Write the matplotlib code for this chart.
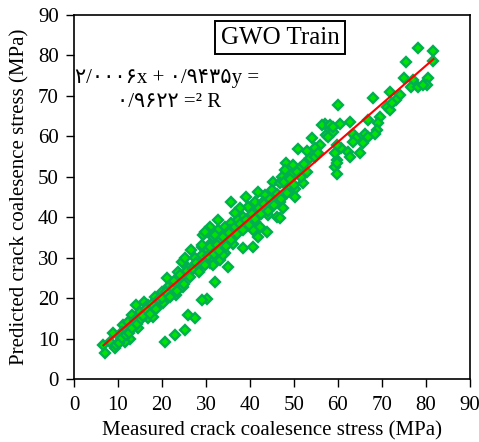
import matplotlib
matplotlib.use("Agg")
import matplotlib.pyplot as plt
import numpy as np

# Measured vs. predicted crack coalescence stress (MPa), GWO training set
measured = [
    78.2, 81.5, 81.7, 75.4, 75.1, 77.1, 80.5, 80.2, 76.7, 78.3, 79.4, 71.8, 74.1, 73.3,
    67.9, 60.1, 71.1, 71.8, 72.2, 69.5, 69.2, 66.9, 68.8, 68.4, 62.7, 57.0, 58.6, 60.5,
    58.9, 57.4, 55.9, 63.5, 66.1, 66.9, 65.8, 64.2, 63.5, 60.8, 62.3, 62.7, 65.0, 59.7,
    59.3, 59.7, 54.0, 54.8, 53.6, 56.3, 58.2,
    58.9, 57.8, 59.7, 59.3, 59.7, 51.0, 52.9, 54.8, 55.5, 48.3, 49.8, 51.4, 48.0, 49.5,
    47.2, 45.3, 46.8, 48.7, 50.2, 52.1, 50.2, 48.3, 44.9, 43.4, 41.9, 39.2, 35.8, 41.1,
    43.0, 44.9, 46.8, 47.6, 46.1, 46.8, 44.2, 42.7, 40.8, 39.6, 37.7, 36.6, 38.5, 41.1,
    42.3, 43.8, 41.9, 40.8, 32.8, 34.3, 35.8, 37.3, 35.5, 37.7, 32.8, 30.9, 30.2, 29.4,
    31.7, 33.6, 36.2, 36.2, 38.5, 40.8, 30.9, 29.0, 30.5, 32.8, 34.3, 32.0, 29.4, 33.2,
    30.9, 35.1,
    7.0, 6.7, 8.2, 9.3, 8.9, 10.5, 11.2, 10.8, 12.0, 12.3, 13.1, 13.9, 14.6, 12.7, 11.6,
    14.2, 15.0, 16.1, 16.9, 15.8, 16.9, 17.7, 18.0, 18.4, 19.2, 19.9, 20.7, 20.3, 21.1,
    21.4, 22.2, 23.0, 23.3, 23.7, 24.1, 24.8, 24.5, 25.2, 26.0, 26.7, 27.5, 28.3, 29.0,
    29.8, 30.5, 31.3, 31.7, 32.0, 33.2, 33.9, 32.0, 30.2, 29.0, 26.0, 27.5, 25.2, 23.0,
    20.7,
    9.5, 10.2, 11.0, 11.8, 12.5, 13.2, 13.8, 14.4, 15.2, 15.6, 16.4, 17.2, 17.8, 18.6,
    19.4, 20.0, 21.0, 21.8, 22.5, 22.8, 23.5, 24.2, 25.0, 25.6, 26.3, 27.0, 27.8, 28.5,
    29.2, 29.8, 30.5, 31.0, 31.8, 32.5, 33.0, 33.8, 34.5, 35.2, 35.8, 36.5, 37.0, 37.8,
    38.5, 39.0, 39.8, 40.5, 41.2, 42.0, 42.5, 43.3, 44.0, 44.6, 45.5, 46.2, 47.0, 47.8,
    48.5, 49.2, 50.0, 50.8, 51.5, 52.3, 53.0,
]
predicted = [
    81.8, 81.1, 78.6, 78.5, 74.4, 73.9, 74.4, 72.7, 72.3, 72.3, 72.8, 71.0, 70.2, 69.0,
    69.6, 67.8, 67.3, 66.5, 68.2, 64.9, 63.2, 64.0, 61.6, 60.5, 63.5, 63.0, 62.0, 63.0,
    61.2, 60.3, 57.9, 60.7, 60.7, 59.9, 58.3, 59.5, 58.7, 57.0, 56.2, 55.0, 55.8, 54.2,
    52.5, 50.8, 59.5, 57.0, 54.6, 62.8, 62.8,
    62.4, 59.9, 57.9, 55.8, 53.3, 56.8, 56.4, 55.0, 55.8, 53.3, 52.9, 52.1, 51.7, 50.8,
    50.0, 48.8, 48.4, 47.5, 47.1, 48.4, 45.1, 46.3, 46.7, 45.5, 46.3, 45.1, 43.8, 43.8,
    43.8, 42.6, 43.8, 42.2, 40.1, 39.7, 40.5, 41.8, 41.8, 42.6, 42.2, 41.0, 40.1, 38.9,
    37.7, 36.4, 35.2, 36.8, 39.3, 37.7, 38.5, 39.3, 36.8, 37.2, 36.8, 37.7, 36.4, 35.6,
    35.2, 34.4, 35.2, 33.5, 32.3, 32.7, 33.5, 32.7, 31.5, 31.9, 31.1, 30.3, 29.9, 29.4,
    28.6, 27.8,
    6.4, 8.4, 9.2, 7.6, 11.3, 10.5, 13.4, 11.7, 12.1, 14.2, 15.8, 13.4, 12.5, 10.0, 9.2,
    18.3, 16.6, 16.2, 15.0, 19.1, 18.3, 17.1, 15.4, 20.4, 18.3, 21.6, 19.5, 18.7, 24.9,
    22.8, 21.6, 23.6, 20.8, 26.5, 24.9, 22.8, 29.0, 29.8, 27.4, 31.9, 29.8, 27.8, 33.1,
    36.4, 31.9, 29.8, 28.2, 35.6, 34.4, 30.7, 24.1, 19.9, 19.5, 15.8, 15.0, 12.1, 10.9,
    9.2,
    8.5, 9.0, 10.2, 10.8, 11.5, 12.6, 14.5, 13.6, 14.8, 15.6, 17.3, 16.0, 18.6, 17.4,
    19.9, 20.1, 21.4, 20.2, 22.5, 24.2, 21.8, 25.6, 23.5, 26.8, 25.2, 27.2, 28.6, 26.5,
    30.6, 28.2, 30.4, 32.6, 31.0, 33.2, 31.6, 35.0, 33.0, 36.2, 34.3, 37.6, 35.8, 38.4,
    36.8, 39.4, 38.0, 40.8, 39.6, 42.4, 40.8, 43.2, 41.5, 44.6, 43.0, 45.8, 44.6, 48.6,
    46.0, 49.4, 48.0, 51.2, 50.0, 53.2, 51.2,
]

# Linear trend: y = 0.9435x + 2.0006, R² = 0.9622
slope = 0.9435
intercept = 2.0006

ticks = list(range(0, 91, 10))

serif = ["Liberation Serif", "DejaVu Sans"]
plt.rcParams["font.family"] = serif

fig = plt.figure(figsize=(4.79, 4.42), dpi=100)
ax = fig.add_axes([0.1545, 0.1425, 0.8265, 0.8235])

ax.plot(measured, predicted, linestyle="none", marker="D", markersize=5.2,
        markerfacecolor="#00E400", markeredgecolor="#00B050", markeredgewidth=1.7,
        zorder=2)

xs = np.array([min(measured), max(measured)])
ax.plot(xs, slope * xs + intercept, color="#FF0000", linewidth=1.5, zorder=3)

ax.set_xlim(0, 90)
ax.set_ylim(0, 90)
ax.set_xticks(ticks)
ax.set_yticks(ticks)
ax.tick_params(axis="both", direction="out", length=6, width=1.0,
               labelsize=15, pad=5, colors="black")
ax.tick_params(axis="x", pad=6)
for sp in ax.spines.values():
    sp.set_linewidth(1.2)
    sp.set_color("black")

ax.set_xlabel("Measured crack coalesence stress (MPa)", fontsize=15, labelpad=5)
ax.set_ylabel("Predicted crack coalesence stress (MPa)", fontsize=15, labelpad=6)

ax.text(46.9, 84.4, "GWO Train", fontsize=18, ha="center", va="center",
        family=serif, zorder=5,
        bbox=dict(boxstyle="square,pad=0.22", facecolor="white",
                  edgecolor="black", linewidth=1.4))

ax.text(0.2, 74.2, "۲/۰۰۰۶x + ۰/۹۴۳۵y =", fontsize=15, ha="left", va="center",
        family=serif, zorder=5)
ax.text(21.6, 68.3, "۰/۹۶۲۲ =² R", fontsize=15, ha="center", va="center",
        family=serif, zorder=5)

fig.savefig("out.png", dpi=100)
